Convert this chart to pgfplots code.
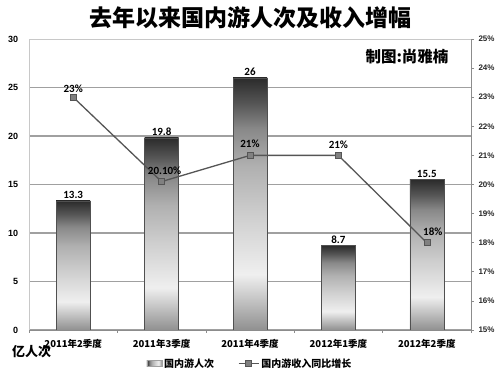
\documentclass[border=0pt]{standalone}
\usepackage{pgfplots}
\pgfplotsset{compat=1.18}
\usepackage{fontspec}
\setmainfont{Noto Sans CJK SC}
\newfontfamily\numfont{Liberation Sans}
\newfontfamily\lblfont{Carlito}

\definecolor{gridc}{HTML}{A0A0A0}
\definecolor{lightc}{HTML}{C8C8C8}
\definecolor{axisc}{HTML}{8C8C8C}
\definecolor{barline}{HTML}{505050}
\definecolor{linec}{HTML}{555555}
\definecolor{markc}{HTML}{808080}
\definecolor{sa}{HTML}{909090}
\definecolor{sb}{HTML}{EFEFEF}
\definecolor{sc}{HTML}{CFCFCF}
\definecolor{sd}{HTML}{B0B0B0}
\definecolor{se}{HTML}{888888}
\definecolor{sf}{HTML}{555555}
\definecolor{sg}{HTML}{2B2B2B}
\pgfdeclareverticalshading{barshade}{100bp}{color(0bp)=(sa); color(25bp)=(sa); color(36bp)=(sb); color(47.5bp)=(sc); color(57.5bp)=(sd); color(65bp)=(se); color(70bp)=(sf); color(75bp)=(sg); color(100bp)=(sg)}

\pgfplotsset{
  mybar/.style={ybar, bar width=34bp, draw=barline, line width=0.5bp, shade, shading=barshade,
    nodes near coords={\pgfplotspointmeta},
    point meta=explicit symbolic,
    nodes near coords style={font=\lblfont\fontsize{11bp}{12bp}\selectfont\bfseries, text=black, anchor=south, inner sep=2bp}},
}

\begin{document}
\begin{tikzpicture}
\useasboundingbox (0,0) rectangle (500bp,373bp);
\begin{axis}[
  at={(29bp,43bp)}, anchor=south west,
  scale only axis, width=442bp, height=291bp,
  xmin=-0.5, xmax=4.5, ymin=0, ymax=30,
  axis x line*=bottom, axis y line*=left,
  x axis line style={draw=axisc, line width=0.8bp, -},
  y axis line style={draw=lightc, line width=0.8bp, -},
  tick align=outside,
  xtick={0,1,2,3,4},
  xticklabels={2011年2季度,2011年3季度,2011年4季度,2012年1季度,2012年2季度},
  major x tick style={draw=none},
  minor xtick={-0.5,0.5,1.5,2.5,3.5,4.5},
  minor x tick style={draw=axisc, line width=0.6bp},
  minor tick length=3bp,
  xticklabel style={font=\fontsize{9.5bp}{10bp}\selectfont\bfseries, yshift=-1.5bp},
  ytick={0,5,10,15,20,25},
  yticklabels={0,5,10,15,20,25},
  extra y ticks={30}, extra y tick labels={30},
  extra y tick style={grid style={draw=lightc, line width=0.8bp}},
  major y tick style={draw=none},
  yticklabel style={font=\numfont\fontsize{9bp}{10bp}\selectfont\bfseries, xshift=-3bp},
  ymajorgrids, grid style={draw=gridc, line width=1.1bp},
]
\addplot[mybar] coordinates {(0,13.3) [13.3]};
\addplot[mybar] coordinates {(1,19.8) [19.8]};
\addplot[mybar] coordinates {(2,26) [26]};
\addplot[mybar] coordinates {(3,8.7) [8.7]};
\addplot[mybar] coordinates {(4,15.5) [15.5]};
\end{axis}
\begin{axis}[
  at={(29bp,43bp)}, anchor=south west,
  scale only axis, width=442bp, height=291bp,
  xmin=-0.5, xmax=4.5, ymin=15, ymax=25,
  axis x line=none, axis y line*=right,
  y axis line style={draw=axisc, line width=0.8bp, -},
  tick align=outside, major tick length=3bp,
  ytick={15,16,...,25},
  yticklabels={15\%,16\%,17\%,18\%,19\%,20\%,21\%,22\%,23\%,24\%,25\%},
  major y tick style={draw=axisc, line width=0.6bp},
  yticklabel style={font=\numfont\fontsize{8bp}{9bp}\selectfont\bfseries, text=black!85, xshift=1bp},
  legend style={at={(0.5,-0.115)}, anchor=center, draw=none, fill=none,
    legend columns=2, font=\fontsize{10bp}{11bp}\selectfont\bfseries,
    /tikz/every even column/.append style={column sep=22bp}},
  legend image code/.code={},
]
\addlegendimage{legend image code/.code={\draw[draw=gridc, shade, shading=barshade, shading angle=90] (0bp,-3bp) rectangle (15bp,3bp);}}
\addlegendentry{国内游人次}
\addplot[color=linec, line width=1.3bp, mark=square*, mark size=3bp,
  mark options={fill=markc, draw=linec, line width=0.5bp},
  point meta=explicit symbolic,
  visualization depends on={value \thisrow{dx} \as \dx},
  visualization depends on={value \thisrow{dy} \as \dy},
  nodes near coords={\pgfplotspointmeta\%},
  nodes near coords style={font=\lblfont\fontsize{11bp}{12bp}\selectfont\bfseries, text=black, anchor=center, xshift=\dx bp, yshift=\dy bp},
  legend image code/.code={\draw[color=linec, line width=1.3bp] (0bp,0bp) -- (20bp,0bp); \draw[fill=markc, draw=linec, line width=0.5bp] (7bp,-3bp) rectangle (13bp,3bp);}]
  table[x=x, y=y, meta=lab] {
x y lab dx dy
0 23 23 0 8.5
1 20.1 20.10 3 11
2 21 21 0 12
3 21 21 0 11
4 18 18 6 11
};
\addlegendentry{国内游收入同比增长}
\end{axis}
\node[font=\fontsize{23bp}{25bp}\selectfont\bfseries] at (250bp,355bp) {去年以来国内游人次及收入增幅};
\node[font=\fontsize{15.5bp}{17bp}\selectfont\bfseries] at (407bp,316bp) {制图:尚雅楠};
\node[font=\fontsize{13bp}{14bp}\selectfont\bfseries] at (31.5bp,21bp) {亿人次};
\end{tikzpicture}
\end{document}
